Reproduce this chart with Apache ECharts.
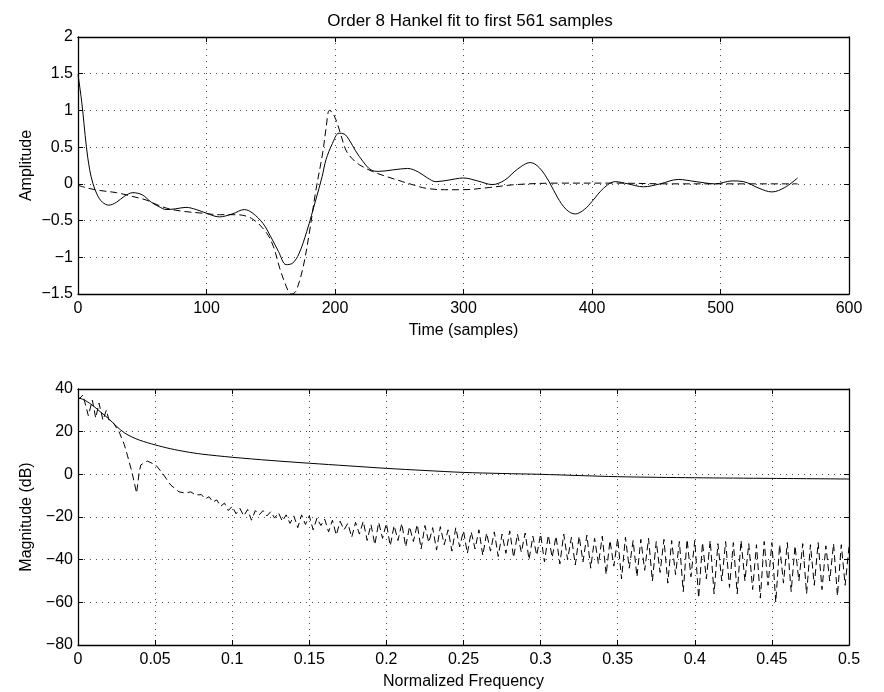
<!DOCTYPE html>
<html>
<head>
<meta charset="utf-8">
<script src="https://cdn.jsdelivr.net/npm/echarts@6/dist/echarts.min.js"></script>
<style>
html,body{margin:0;padding:0;background:#fff;}
#chart{width:884px;height:692px;}
</style>
</head>
<body>
<div id="chart"></div>
<script>
// ---------- Top panel: impulse response (solid) ----------
const origTime = [0,3,6.5,9,11.7,15,19,24,30,36,42.7,50,57,63,68.7,76,84,92,100,110,120,129.5,136,144,150,156,162,167,172,178,185,190,193,198,203,207,211,216,222,228,234.5,245,256.5,265,272,278.5,288,300,311,322.5,332,342,352,359,366.6,373,380,387,394,400,409,418,428,440,453,467,481,496,509,518,530,540,550,560];
const origAmp = [1.49,1.1,0.51,0.2,0,-0.15,-0.25,-0.29,-0.25,-0.17,-0.12,-0.15,-0.25,-0.31,-0.35,-0.34,-0.32,-0.35,-0.4,-0.45,-0.41,-0.35,-0.4,-0.54,-0.72,-0.92,-1.1,-1.08,-0.95,-0.65,-0.22,0.1,0.33,0.55,0.69,0.68,0.6,0.45,0.3,0.19,0.17,0.19,0.21,0.16,0.08,0.03,0.05,0.08,0.04,-0.01,0.05,0.2,0.29,0.22,0.03,-0.18,-0.35,-0.41,-0.35,-0.24,-0.06,0.03,0,-0.04,0,0.06,0.03,0,0.04,0.03,-0.06,-0.11,-0.05,0.08];

// ---------- Top panel: Hankel fit (dashed) ----------
const fitTime = [0,8,16.8,30,42,53,61,68.7,80,97,110,123,135,146,152,157,161,164,166,168,170,175,180,185,190.4,193,195.6,198,200.8,204,208.5,213,219,229,240,252.6,262,270.7,285,299,320,340.7,374,418,460,500,560];
const fitAmp = [-0.02,-0.06,-0.09,-0.12,-0.17,-0.22,-0.28,-0.33,-0.37,-0.4,-0.42,-0.42,-0.47,-0.65,-0.85,-1.15,-1.35,-1.47,-1.5,-1.49,-1.45,-1.15,-0.67,-0.1,0.42,0.75,1,0.97,0.87,0.7,0.46,0.35,0.26,0.17,0.1,0.03,-0.02,-0.06,-0.08,-0.08,-0.05,-0.01,0.01,0.01,0,0,0];

// ---------- Bottom panel: fit magnitude (solid) ----------
const fitFreq = [0,0.005,0.01,0.015,0.02,0.025,0.03,0.035,0.04,0.05,0.06,0.07,0.08,0.1,0.125,0.15,0.175,0.2,0.225,0.25,0.275,0.3,0.35,0.4,0.45,0.5];
const fitDb = [36,34.5,32,29,26,22.5,19.5,17.5,16,13.8,12,10.6,9.5,8,6.5,5.2,4,2.8,1.8,0.9,0.4,0,-1.1,-1.6,-1.9,-2.2];

// ---------- Bottom panel: error / spectrum (dashed) ----------
const errFreq = [0,0.0032,0.0067,0.0093,0.0115,0.0136,0.0162,0.0184,0.0201,0.023,0.0266,0.03,0.032,0.035,0.038,0.0396,0.0407,0.045,0.0504,0.0547,0.0601,0.0655,0.0698,0.0731,0.0763,
0.08,0.0825,0.085,0.0875,0.09,0.0925,0.095,0.0975,0.1,0.1025,0.105,0.1075,0.11,0.1125,0.115,0.1175,0.12,0.1225,0.125,0.1275,0.13,0.1325,0.135,0.1375,0.14,0.1425,0.145,0.1475,0.15,0.1525,0.155,0.1575,0.16,0.1625,0.165,0.1675,0.17,0.1725,0.175,0.1775,0.18,0.1825,0.185,0.1875,0.19,0.1925,0.195,0.1975,0.2,0.2025,0.205,0.2075,0.21,0.2125,0.215,0.2175,0.22,0.2225,0.225,0.2275,0.23,0.2325,0.235,0.2375,0.24,0.2425,0.245,0.2475,0.25,0.2525,0.255,0.2575,0.26,0.2625,0.265,0.2675,0.27,0.2725,0.275,0.2775,0.28,0.2825,0.285,0.2875,0.29,0.2925,0.295,0.2975,0.3,0.3025,0.305,0.3075,0.31,0.3125,0.315,0.3175,0.32,0.3225,0.325,0.3275,0.33,0.3325,0.335,0.3375,0.34,0.3425,0.345,0.3475,0.35,0.3525,0.355,0.3575,0.36,0.3625,0.365,0.3675,0.37,0.3725,0.375,0.3775,0.38,0.3825,0.385,0.3875,0.39,0.3925,0.395,0.3975,0.4,0.4025,0.405,0.4075,0.41,0.4125,0.415,0.4175,0.42,0.4225,0.425,0.4275,0.43,0.4325,0.435,0.4375,0.44,0.4425,0.445,0.4475,0.45,0.4525,0.455,0.4575,0.46,0.4625,0.465,0.4675,0.47,0.4725,0.475,0.4775,0.48,0.4825,0.485,0.4875,0.49,0.4925,0.495,0.4975,0.5];
const errDb = [34.8,37.2,27.5,34.8,26.4,33.4,25.4,30.1,25.4,24,20,14,9,1,-8.8,0.6,4.4,6.2,4.4,0.6,-5,-8.2,-8.8,-8.2,-9.7,
-9.5,-11.5,-10.5,-13,-12,-15,-13.5,-17,-15,-18.5,-16,-19.5,-16.5,-21.5,-17,-19,-17,-19.5,-17.5,-20.5,-18,-22,-19,-23,-19.5,-25,-19,-23.5,-19.5,-26,-20.5,-24,-21,-27,-21.5,-28.5,-22,-26,-23,-29.5,-22.5,-28,-22,-31,-23.5,-33,-22.5,-30,-23,-33.5,-24,-31,-23,-34,-24.5,-31.5,-23.5,-35,-24,-32,-25,-35.5,-24.5,-33,-26,-36,-25,-34,-26.5,-37,-27,-35,-26,-38,-27.5,-36,-27,-38.5,-28,-37,-26.5,-39,-28,-36.5,-27.5,-40,-29,-38,-28,-41,-28.5,-39,-29,-42,-28,-40,-29.5,-42.5,-29,-41,-28.5,-44,-30,-42,-29,-47,-31,-43,-30,-49,-29.5,-44,-31,-48,-30.5,-45,-30,-50,-31.5,-46,-30.5,-51,-31,-47,-31.5,-55,-30.5,-48,-31,-58,-32,-49,-31,-56,-32.5,-50,-31.5,-53,-32,-56,-31,-50,-32.5,-54,-33,-58,-31.5,-52,-32,-60,-33,-51,-32,-55,-33.5,-50,-32.5,-56,-33,-52,-32,-54,-33.5,-50,-32.5,-57,-33,-52,-34];

// ---------- Axis ticks / texts ----------
const titleText = 'Order 8 Hankel fit to first 561 samples';
const topX = {min:0, max:600, interval:100, name:'Time (samples)'};
const topY = {min:-1.5, max:2, interval:0.5, name:'Amplitude'};
const botX = {min:0, max:0.5, interval:0.05, name:'Normalized Frequency'};
const botY = {min:-80, max:40, interval:20, name:'Magnitude (dB)'};

function zip(xs, ys){ const n=Math.min(xs.length, ys.length); const out=[]; for(let i=0;i<n;i++) out.push([xs[i], ys[i]]); return out; }

const FONT = 'Liberation Sans, Arial, Helvetica, sans-serif';
const FS = 16;
const fmt = v => { const s = String(Number(v.toFixed(4))); return s.replace('-', '\u2212'); };
const gridLine = {show:true, lineStyle:{color:'#000', width:1, type:[1,5], opacity:0.7}};

function xAx(g, spec, pos, main){
  return {
    type:'value', gridIndex:g, position:pos, min:spec.min, max:spec.max, interval:spec.interval,
    name: main ? spec.name : '', nameLocation:'middle', nameGap:29, nameMoveOverlap:false,
    nameTextStyle:{fontFamily:FONT, fontSize:FS, color:'#000'},
    axisLine:{show:true, onZero:false, lineStyle:{color:'#000', width:1.3}},
    axisTick:{show:true, inside:true, length:5, lineStyle:{color:'#000', width:1}},
    axisLabel:{show:main, margin:7, fontFamily:FONT, fontSize:FS, color:'#000', formatter:fmt},
    splitLine: main ? gridLine : {show:false}
  };
}
function yAx(g, spec, pos, main){
  return {
    type:'value', gridIndex:g, position:pos, min:spec.min, max:spec.max, interval:spec.interval,
    name: main ? spec.name : '', nameLocation:'middle', nameGap:43, nameRotate:90, nameMoveOverlap:false,
    nameTextStyle:{fontFamily:FONT, fontSize:FS, color:'#000'},
    axisLine:{show:true, onZero:false, lineStyle:{color:'#000', width:1.3}},
    axisTick:{show:true, inside:true, length:5, lineStyle:{color:'#000', width:1}},
    axisLabel:{show:main, margin:5, fontFamily:FONT, fontSize:FS, color:'#000', formatter:fmt},
    splitLine: main ? gridLine : {show:false}
  };
}

function lineSeries(xi, yi, data, dashed, smooth){
  return {
    type:'line', xAxisIndex:xi, yAxisIndex:yi, data:data, showSymbol:false, symbol:'none',
    smooth:smooth, clip:true, silent:true,
    lineStyle:{color:'#000', width:1, type: dashed ? [7,4] : 'solid'}
  };
}

const chart = echarts.init(document.getElementById('chart'), null, {renderer:'canvas'});
chart.setOption({
  animation:false,
  backgroundColor:'#fff',
  title:{text:titleText, left:465, textAlign:'center', top:8, textStyle:{fontFamily:FONT, fontSize:17, fontWeight:'normal', color:'#000'}},
  grid:[
    {left:78, top:37, width:771, height:257},
    {left:78, top:389, width:771, height:256}
  ],
  xAxis:[ xAx(0, topX, 'bottom', true), xAx(0, topX, 'top', false), xAx(1, botX, 'bottom', true), xAx(1, botX, 'top', false) ],
  yAxis:[ yAx(0, topY, 'left', true), yAx(0, topY, 'right', false), yAx(1, botY, 'left', true), yAx(1, botY, 'right', false) ],
  series:[
    lineSeries(0, 0, zip(origTime, origAmp), false, 0.35),
    lineSeries(0, 0, zip(fitTime, fitAmp), true, 0.35),
    lineSeries(2, 2, zip(fitFreq, fitDb), false, 0.3),
    lineSeries(2, 2, zip(errFreq, errDb), true, false)
  ]
});
</script>
</body>
</html>
